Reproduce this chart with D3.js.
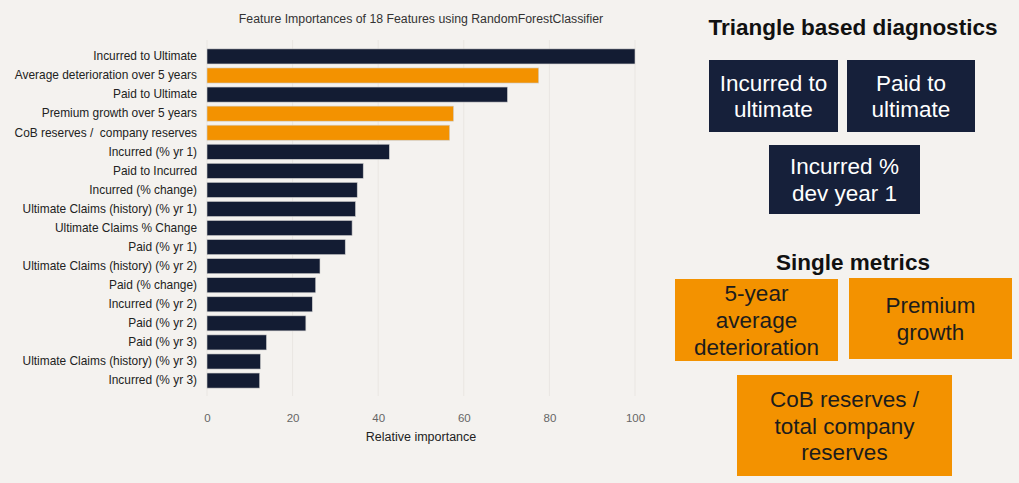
<!DOCTYPE html>
<html>
<head>
<meta charset="utf-8">
<script src="https://cdn.jsdelivr.net/npm/d3@7/dist/d3.min.js"></script>
<style>
  html, body { margin: 0; padding: 0; background: #f4f2ef; }
  svg { display: block; }
  svg text { white-space: pre; }
</style>
</head>
<body>
<svg id="chart" width="1019" height="483"></svg>
<script>
// Feature names, top to bottom
const features = [
  "Incurred to Ultimate",
  "Average deterioration over 5 years",
  "Paid to Ultimate",
  "Premium growth over 5 years",
  "CoB reserves /  company reserves",
  "Incurred (% yr 1)",
  "Paid to Incurred",
  "Incurred (% change)",
  "Ultimate Claims (history) (% yr 1)",
  "Ultimate Claims % Change",
  "Paid (% yr 1)",
  "Ultimate Claims (history) (% yr 2)",
  "Paid (% change)",
  "Incurred (% yr 2)",
  "Paid (% yr 2)",
  "Paid (% yr 3)",
  "Ultimate Claims (history) (% yr 3)",
  "Incurred (% yr 3)"
];
// Relative importance of each feature
const importance = [100, 77.5, 70.2, 57.6, 56.7, 42.6, 36.5, 35.1, 34.7, 33.9, 32.3, 26.4, 25.4, 24.6, 23.1, 13.9, 12.5, 12.3];
// Group of each feature: "single" metrics are highlighted
const group = ["triangle", "single", "triangle", "single", "single", "triangle", "triangle", "triangle", "triangle",
  "triangle", "triangle", "triangle", "triangle", "triangle", "triangle", "triangle", "triangle", "triangle"];
const xTicks = [0, 20, 40, 60, 80, 100];

// Summary panels
const triangleTitle = "Triangle based diagnostics";
const triangleBoxes = [["Incurred to", "ultimate"], ["Paid to", "ultimate"], ["Incurred %", "dev year 1"]];
const singleTitle = "Single metrics";
const singleBoxes = [["5-year", "average", "deterioration"], ["Premium", "growth"], ["CoB reserves /", "total company", "reserves"]];

const NAVY = "#131c33";
const ORANGE = "#f39200";
const FONT = "'Liberation Sans', Arial, sans-serif";

const svg = d3.select("#chart");

// ---- Bar chart ----
const plot = { left: 207, right: 635, top: 47, bottom: 390 };
const x = d3.scaleLinear().domain([0, 100]).range([plot.left, plot.right]);
const y = d3.scaleBand().domain(features).range([plot.top, plot.bottom]).paddingInner(0.21).paddingOuter(0.1);

// grid lines
svg.append("g")
  .selectAll("line")
  .data(xTicks)
  .join("line")
  .attr("x1", d => x(d)).attr("x2", d => x(d))
  .attr("y1", 40).attr("y2", 396)
  .attr("stroke", "#e9e6e2").attr("stroke-width", 1);

svg.append("text")
  .attr("x", 421).attr("y", 23)
  .attr("text-anchor", "middle")
  .attr("font-family", FONT).attr("font-size", 12.3)
  .attr("fill", "#333")
  .text("Feature Importances of 18 Features using RandomForestClassifier");

svg.append("g")
  .selectAll("rect")
  .data(features)
  .join("rect")
  .attr("x", x(0))
  .attr("y", d => y(d))
  .attr("width", (d, i) => x(importance[i]) - x(0))
  .attr("height", y.bandwidth())
  .attr("fill", (d, i) => group[i] === "single" ? ORANGE : NAVY)
  .attr("stroke", "#cfcfcf").attr("stroke-width", 0.6);

// y axis labels
const yAxis = d3.axisLeft(y).tickSize(0).tickPadding(10);
const gy = svg.append("g").attr("transform", `translate(${x(0)},0)`).call(yAxis);
gy.select(".domain").remove();
gy.selectAll("text").attr("font-family", FONT).attr("font-size", 11.9).attr("fill", "#222");

// x axis
const xAxis = d3.axisBottom(x).tickValues(xTicks).tickSize(0).tickPadding(6);
const gx = svg.append("g").attr("transform", `translate(0,408)`).call(xAxis);
gx.select(".domain").remove();
gx.selectAll("text").attr("font-family", FONT).attr("font-size", 11.5).attr("fill", "#666");

svg.append("text")
  .attr("x", x(50)).attr("y", 441)
  .attr("text-anchor", "middle")
  .attr("font-family", FONT).attr("font-size", 12.5)
  .attr("fill", "#222")
  .text("Relative importance");

// ---- Summary panels ----
const boxFrames = {
  triangle: [
    { x0: 709, x1: 838, y0: 60, y1: 132 },
    { x0: 847, x1: 975, y0: 60, y1: 132 },
    { x0: 769, x1: 920, y0: 145, y1: 214 }
  ],
  single: [
    { x0: 675, x1: 838, y0: 279, y1: 361 },
    { x0: 849, x1: 1012, y0: 278, y1: 359 },
    { x0: 737, x1: 952, y0: 375, y1: 476 }
  ]
};

function panel(title, titleY, boxes, frames, fill, textColor) {
  svg.append("text")
    .attr("x", 853).attr("y", titleY)
    .attr("text-anchor", "middle")
    .attr("font-family", FONT).attr("font-weight", "bold").attr("font-size", 22.5)
    .attr("fill", "#111")
    .text(title);
  const g = svg.append("g").selectAll("g").data(boxes).join("g");
  g.append("rect")
    .attr("x", (d, i) => frames[i].x0)
    .attr("y", (d, i) => frames[i].y0)
    .attr("width", (d, i) => frames[i].x1 - frames[i].x0)
    .attr("height", (d, i) => frames[i].y1 - frames[i].y0)
    .attr("fill", fill);
  const lh = 26.7;
  g.each(function (lines, i) {
    const f = frames[i];
    const cx = (f.x0 + f.x1) / 2, cy = (f.y0 + f.y1) / 2;
    d3.select(this).selectAll("text")
      .data(lines)
      .join("text")
      .attr("x", cx)
      .attr("y", (t, j) => cy + (j - (lines.length - 1) / 2) * lh)
      .attr("dy", "0.36em")
      .attr("text-anchor", "middle")
      .attr("font-family", FONT).attr("font-size", 22.5)
      .attr("fill", textColor)
      .text(t => t);
  });
}

panel(triangleTitle, 35, triangleBoxes, boxFrames.triangle, "#16203a", "#ffffff");
panel(singleTitle, 270, singleBoxes, boxFrames.single, ORANGE, "#1c1c1c");
</script>
</body>
</html>
